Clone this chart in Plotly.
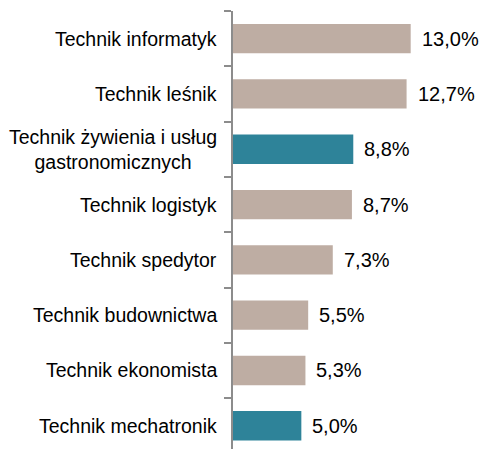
import plotly.graph_objects as go

categories = [
    "Technik informatyk",
    "Technik leśnik",
    "Technik żywienia i usług<br>gastronomicznych",
    "Technik logistyk",
    "Technik spedytor",
    "Technik budownictwa",
    "Technik ekonomista",
    "Technik mechatronik",
]
values = [13.0, 12.7, 8.8, 8.7, 7.3, 5.5, 5.3, 5.0]
highlight = [False, False, True, False, False, False, False, True]

BEIGE = "#BEADA3"
TEAL = "#2E8399"
AXIS = "#8C8C8C"
FONT = "Liberation Sans, Arial, sans-serif"

labels = [f"{v:.1f}%".replace(".", ",") for v in values]
colors = [TEAL if h else BEIGE for h in highlight]

fig = go.Figure(
    go.Bar(
        x=values,
        y=categories,
        orientation="h",
        marker=dict(color=colors, line=dict(width=0)),
        width=0.53,
        hoverinfo="skip",
    )
)

annotations = []
for c, v, t in zip(categories, values, labels):
    annotations.append(dict(
        x=v, y=c, xref="x", yref="y", text=t, showarrow=False,
        xanchor="left", yanchor="middle", xshift=9,
        font=dict(family=FONT, size=20, color="#000000"),
    ))
    annotations.append(dict(
        x=0, y=c, xref="paper", yref="y", text=c, showarrow=False,
        xanchor="right", yanchor="middle", xshift=-14, align="center",
        font=dict(family=FONT, size=19.5, color="#000000"),
    ))

fig.update_layout(
    width=483,
    height=449,
    margin=dict(l=233, r=0, t=11, b=0),
    paper_bgcolor="white",
    plot_bgcolor="white",
    showlegend=False,
    hovermode=False,
    annotations=annotations,
    xaxis=dict(
        range=[0, 18.29],
        visible=False,
        showgrid=False,
        zeroline=False,
    ),
    yaxis=dict(
        type="category",
        categoryorder="array",
        categoryarray=categories,
        range=[7.42, -0.5],
        showticklabels=False,
        showgrid=False,
        zeroline=False,
        showline=True,
        linecolor=AXIS,
        linewidth=2,
        ticks="outside",
        tickson="boundaries",
        ticklen=7,
        tickwidth=2,
        tickcolor=AXIS,
    ),
)

fig.write_html(
    "out.html",
    config={"displayModeBar": False, "staticPlot": True},
    post_script="document.body.style.margin='0';document.body.style.overflow='hidden';",
)
